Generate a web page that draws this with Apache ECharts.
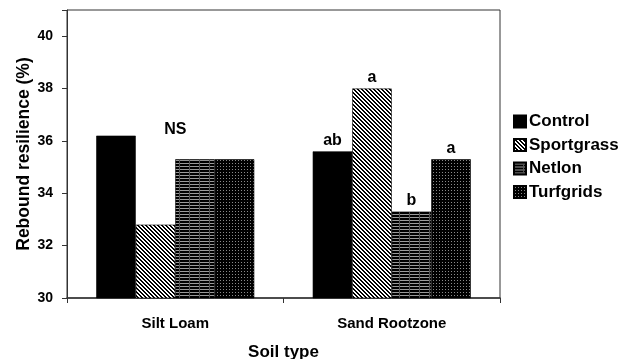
<!DOCTYPE html>
<html>
<head>
<meta charset="utf-8">
<script src="https://cdn.jsdelivr.net/npm/echarts@6/dist/echarts.min.js"></script>
<style>
html,body{margin:0;padding:0;background:#fff;}
#chart{width:632px;height:359px;}
</style>
</head>
<body>
<div id="chart"></div>
<script>
const categories = ['Silt Loam', 'Sand Rootzone'];
const seriesNames = ['Control', 'Sportgrass', 'Netlon', 'Turfgrids'];
const control = [36.2, 35.6];
const sportgrass = [32.8, 38.0];
const netlon = [35.3, 33.3];
const turfgrids = [35.3, 35.3];
const controlSig = ['', 'ab'];
const sportgrassSig = ['', 'a'];
const netlonSig = ['', 'b'];
const turfgridsSig = ['', 'a'];
const yTicks = [30, 32, 34, 36, 38, 40];
const nsCategory = 'Silt Loam';
const nsValue = 36.45;
const nsText = 'NS';

function makePattern(w, h, painter) {
  const c = document.createElement('canvas');
  c.width = w; c.height = h;
  const ctx = c.getContext('2d');
  painter(ctx, w, h);
  return {image: c, repeat: 'repeat'};
}
function px(ctx, x, y, col) { ctx.fillStyle = col; ctx.fillRect(x, y, 1, 1); }

const solidBlack = '#000';
const diagPattern = makePattern(4, 4, (ctx, w, h) => {
  ctx.fillStyle = '#fff'; ctx.fillRect(0, 0, w, h);
  for (let y = 0; y < h; y++) for (let x = 0; x < w; x++) {
    const m = ((x - y) % 4 + 4) % 4;
    if (m === 0 || m === 1) px(ctx, x, y, '#000');
  }
});
const hLinePattern = makePattern(10, 3, (ctx, w, h) => {
  ctx.fillStyle = '#000'; ctx.fillRect(0, 0, w, h);
  ctx.fillStyle = '#9a9a9a'; ctx.fillRect(0, 1, w, 1);
  ctx.fillStyle = '#555'; ctx.fillRect(9, 0, 1, h);
});
const dotPattern = makePattern(3, 3, (ctx, w, h) => {
  ctx.fillStyle = '#000'; ctx.fillRect(0, 0, w, h);
  px(ctx, 1, 1, '#8a8a8a');
});

const fills = [solidBlack, diagPattern, hLinePattern, dotPattern];
const values = [control, sportgrass, netlon, turfgrids];
const sigs = [controlSig, sportgrassSig, netlonSig, turfgridsSig];

const font = 'Liberation Sans, Arial, sans-serif';

const series = seriesNames.map((name, i) => ({
  name: name,
  type: 'bar',
  barGap: '0%',
  barCategoryGap: '27%',
  itemStyle: {color: fills[i], borderColor: '#000', borderWidth: 0.6},
  label: {
    show: true, position: 'top', distance: 3,
    fontFamily: font, fontWeight: 'bold', fontSize: 16, color: '#000',
    formatter: p => sigs[i][p.dataIndex]
  },
  data: values[i]
}));
series.push({
  name: 'ns',
  type: 'scatter',
  symbolSize: 0,
  silent: true,
  itemStyle: {opacity: 1},
  label: {show: true, position: 'inside', formatter: nsText, opacity: 1,
    fontFamily: font, fontWeight: 'bold', fontSize: 16, color: '#000'},
  data: [[nsCategory, nsValue]]
});

const chart = echarts.init(document.getElementById('chart'));
chart.setOption({
  animation: false,
  backgroundColor: '#fff',
  textStyle: {fontFamily: font},
  grid: {left: 67, top: 10, right: 132, bottom: 61, show: true, borderColor: '#333', borderWidth: 1,
    containLabel: false, outerBoundsMode: 'none'},
  legend: {
    orient: 'vertical', left: 513, top: 113, padding: 0,
    itemWidth: 12, itemHeight: 12, itemGap: 6.5,
    textStyle: {fontFamily: font, fontWeight: 'bold', fontSize: 17, lineHeight: 17, color: '#000', padding: [0, 0, 0, -2]},
    data: seriesNames.map(n => ({name: n, icon: 'rect'}))
  },
  xAxis: {
    type: 'category', data: categories,
    name: 'Soil type', nameLocation: 'middle', nameGap: 46, nameMoveOverlap: false,
    nameTextStyle: {fontFamily: font, fontWeight: 'bold', fontSize: 17, color: '#000'},
    axisLine: {lineStyle: {color: '#333', width: 1.5}},
    axisTick: {show: true, length: 5, lineStyle: {color: '#333'}},
    axisLabel: {fontFamily: font, fontWeight: 'bold', fontSize: 15, color: '#000', margin: 18}
  },
  yAxis: {
    type: 'value', min: 30, max: 41, interval: 2,
    name: 'Rebound resilience (%)', nameLocation: 'middle', nameGap: 34, nameMoveOverlap: false,
    nameTextStyle: {fontFamily: font, fontWeight: 'bold', fontSize: 17.5, color: '#000'},
    axisLine: {show: true, lineStyle: {color: '#333', width: 1}},
    axisTick: {show: true, length: 5, lineStyle: {color: '#333'}},
    splitLine: {show: false},
    axisLabel: {fontFamily: font, fontWeight: 'bold', fontSize: 14, color: '#000', margin: 14,
      formatter: v => yTicks.indexOf(v) >= 0 ? String(v) : ''}
  },
  series: series
});
</script>
</body>
</html>
